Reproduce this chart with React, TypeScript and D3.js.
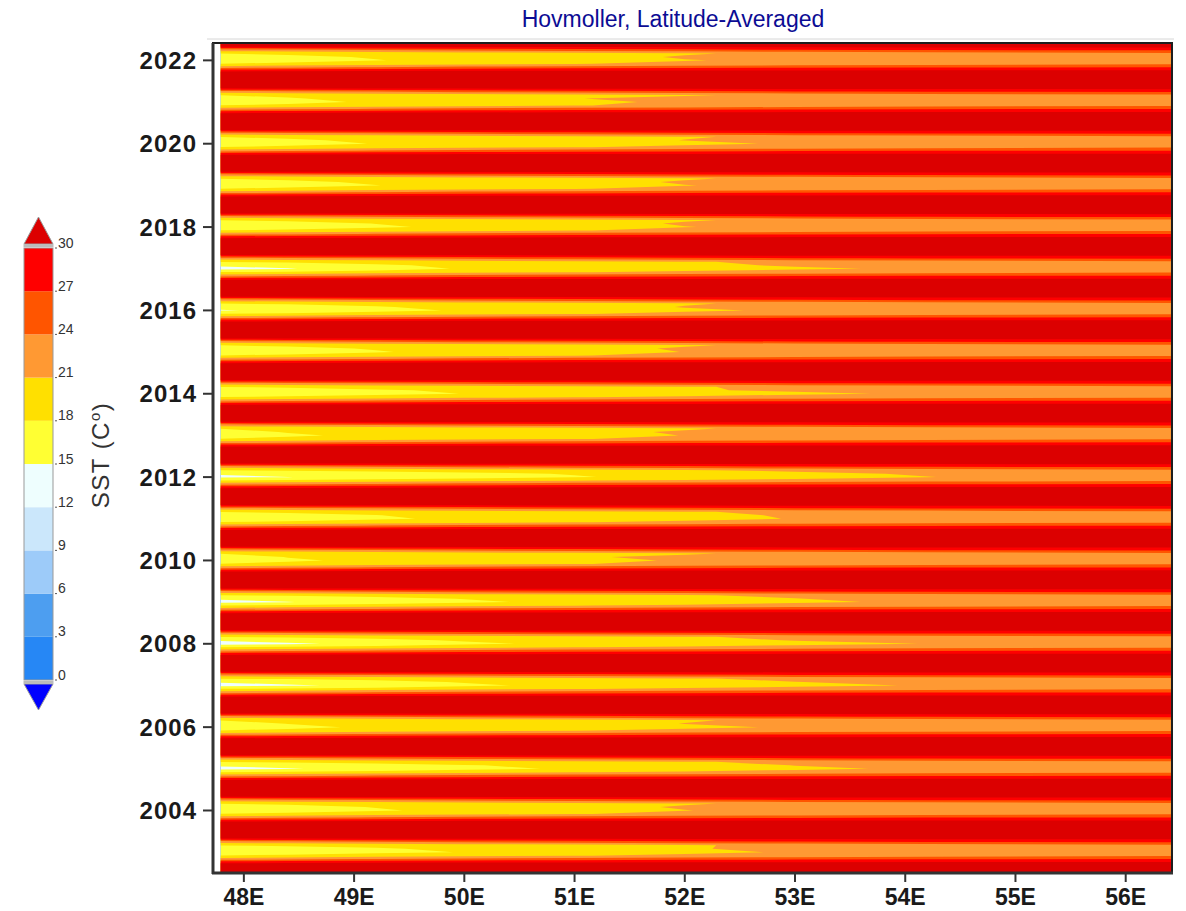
import React, { useMemo } from 'react';
import * as d3 from 'd3';

// ---------------- DATA ----------------
// Longitude nodes of the latitude-averaged SST profile (deg E)
const LON_NODES = [47.79, 48.4, 49.2, 50.0, 51.0, 52.0, 53.0, 54.2, 56.42];
// Monthly series: Jul 2002 .. Jun 2022
const START_YEAR = 2002;
const START_MONTH = 7;
const MONTH_COUNT = 240;

// Winter (coldest months) profiles, per year
const WINTER_YEARS = [2003, 2004, 2005, 2006, 2007, 2008, 2009, 2010, 2011, 2012, 2013, 2014, 2015, 2016, 2017, 2018, 2019, 2020, 2021, 2022];
const JAN_SST = [
  [15.8, 16.4, 17.3, 18.1, 19.3, 20.5, 21.2, 21.7, 22.6],
  [15.9, 16.7, 17.7, 18.7, 19.9, 20.95, 21.6, 22.2, 23.0],
  [14.3, 14.8, 15.9, 17.1, 18.4, 19.4, 20.5, 21.4, 22.6],
  [16.2, 17.4, 18.4, 19.0, 19.8, 20.6, 21.2, 21.7, 22.6],
  [14.2, 14.6, 15.7, 17.5, 18.7, 19.5, 20.3, 21.2, 22.5],
  [14.0, 14.6, 15.7, 17.5, 18.6, 19.4, 20.2, 21.06, 22.0],
  [14.4, 14.9, 16.2, 17.5, 18.7, 19.6, 20.6, 21.4, 22.6],
  [16.2, 17.6, 18.6, 19.4, 20.4, 21.2, 21.6, 22.1, 22.9],
  [15.8, 16.6, 17.6, 18.5, 19.4, 20.3, 21.1, 21.6, 22.6],
  [14.5, 14.95, 15.8, 16.7, 17.8, 18.8, 19.8, 20.95, 22.3],
  [16.4, 17.6, 18.6, 19.3, 20.2, 21.05, 21.5, 22.0, 22.8],
  [15.8, 16.4, 17.2, 18.05, 18.9, 19.8, 20.6, 21.3, 22.5],
  [16.0, 16.8, 17.8, 18.8, 20.0, 21.05, 21.5, 22.0, 22.8],
  [14.8, 15.5, 17.0, 18.35, 19.5, 20.65, 21.3, 21.7, 22.6],
  [14.2, 14.8, 16.7, 18.25, 19.05, 19.9, 20.7, 21.3, 22.5],
  [15.9, 16.7, 17.6, 18.6, 19.8, 20.95, 21.4, 21.9, 22.8],
  [16.0, 17.0, 17.95, 18.9, 19.9, 20.95, 21.4, 21.9, 22.8],
  [16.0, 17.1, 18.1, 18.8, 19.7, 20.6, 21.2, 21.7, 22.6],
  [16.2, 17.2, 18.4, 19.4, 20.6, 21.3, 21.7, 22.1, 22.9],
  [16.0, 16.9, 17.9, 18.75, 19.8, 20.9, 21.4, 21.9, 22.8],
];
const FEB_SST = [
  [16.3, 16.9, 17.7, 18.6, 19.7, 20.9, 21.3, 21.8, 22.8],
  [16.4, 17.3, 18.1, 19.1, 20.3, 21.2, 21.8, 22.3, 23.1],
  [15.3, 15.9, 16.9, 17.8, 18.9, 20.0, 21.05, 21.6, 22.7],
  [16.6, 18.05, 18.7, 19.4, 20.2, 21.05, 21.5, 22.0, 22.8],
  [15.2, 16.05, 17.2, 18.2, 19.1, 20.1, 20.95, 21.7, 22.7],
  [15.2, 16.1, 17.3, 18.3, 19.3, 20.3, 21.1, 21.6, 22.5],
  [15.3, 16.1, 17.1, 18.1, 19.1, 20.0, 20.95, 21.6, 22.7],
  [16.6, 18.1, 18.9, 19.7, 20.8, 21.4, 21.8, 22.3, 23.0],
  [16.2, 17.1, 17.95, 18.7, 19.6, 20.5, 21.2, 21.7, 22.7],
  [15.3, 15.85, 16.6, 17.3, 18.2, 19.25, 20.35, 21.3, 22.5],
  [16.8, 18.2, 18.9, 19.6, 20.5, 21.2, 21.6, 22.1, 22.9],
  [16.2, 16.8, 17.7, 18.4, 19.6, 20.8, 21.3, 21.8, 22.7],
  [16.4, 17.4, 18.2, 19.2, 20.4, 21.2, 21.6, 22.1, 22.9],
  [15.9, 16.8, 17.8, 18.75, 20.0, 21.1, 21.5, 22.0, 22.8],
  [15.4, 16.4, 17.6, 18.6, 19.6, 20.6, 21.2, 21.7, 22.7],
  [16.3, 17.2, 18.05, 19.0, 20.2, 21.2, 21.6, 22.0, 22.9],
  [16.4, 17.6, 18.3, 19.2, 20.3, 21.2, 21.6, 22.0, 22.9],
  [16.4, 17.7, 18.4, 19.1, 20.1, 21.05, 21.5, 22.0, 22.8],
  [16.6, 17.8, 18.8, 19.8, 20.95, 21.5, 21.8, 22.2, 23.0],
  [16.4, 17.5, 18.2, 19.1, 20.2, 21.2, 21.6, 22.0, 22.9],
];
// Typical profiles for the other months
const MAR_SST = [18.1, 18.4, 18.9, 19.4, 20.0, 20.8, 21.5, 22.3, 23.4];
const APR_SST = [22.5, 23.2, 24.0, 24.8, 25.5, 26.2, 26.8, 27.2, 27.5];
const MAY_SST = [30.5, 30.6, 30.7, 30.8, 30.9, 31.0, 31.0, 31.0, 31.0];
const JUN_SST = [32.5, 32.5, 32.4, 32.3, 32.2, 32.1, 32.0, 32.0, 32.0];
const JUL_SST = [33.0, 33.0, 32.9, 32.8, 32.7, 32.6, 32.5, 32.4, 32.3];
const AUG_SST = [33.5, 33.4, 33.3, 33.2, 33.1, 33.0, 32.8, 32.6, 32.5];
const SEP_SST = [32.0, 32.1, 32.2, 32.3, 32.3, 32.3, 32.2, 32.1, 32.0];
const OCT_SST = [29.5, 29.7, 29.9, 30.05, 30.2, 30.3, 30.4, 30.5, 30.5];
const NOV_SST = [22.5, 23.3, 24.2, 25.0, 25.6, 26.1, 26.5, 26.8, 27.0];
const DEC_SST = [18.1, 18.6, 19.4, 20.1, 20.9, 21.5, 22.1, 22.8, 23.6];
const OTHER_MONTHS_SST = [MAR_SST, APR_SST, MAY_SST, JUN_SST, JUL_SST, AUG_SST, SEP_SST, OCT_SST, NOV_SST, DEC_SST];

// Colour levels
const THRESHOLDS = [-100, 0, 3, 6, 9, 12, 15, 18, 21, 24, 27, 30];
const LEVEL_COLORS = ['#0000ff', '#2687f5', '#4d9ef0', '#9dcbf9', '#cbe7fb', '#eefefe', '#ffff33', '#ffe000', '#ff9933', '#ff5500', '#ff0000', '#dc0000'];
const CB_LEVELS = [0, 3, 6, 9, 12, 15, 18, 21, 24, 27, 30];

// Axes
const LON_DOMAIN = [47.72, 56.42];
const LON_TICKS = [48, 49, 50, 51, 52, 53, 54, 55, 56];
const YEAR_TICKS = [2004, 2006, 2008, 2010, 2012, 2014, 2016, 2018, 2020, 2022];

const TITLE = 'Hovmoller, Latitude-Averaged';
const FONT = '"Liberation Sans", Arial, Helvetica, sans-serif';

export default function App() {
  const W = 1186, H = 911;
  const plot = { left: 213, right: 1172, top: 43, bottom: 873 };
  const tStart = START_YEAR + (START_MONTH - 1) / 12;
  const tEnd = tStart + (MONTH_COUNT - 1) / 12;
  const x = d3.scaleLinear().domain(LON_DOMAIN).range([plot.left, plot.right]);
  const y = d3.scaleLinear().domain([tStart, tEnd]).range([plot.bottom, plot.top]);

  const layers = useMemo(() => {
    const nx = LON_NODES.length;
    const ny = MONTH_COUNT;
    const values: number[] = new Array(nx * ny);
    for (let j = 0; j < ny; j++) {
      const abs = START_MONTH - 1 + j;
      const yr = START_YEAR + Math.floor(abs / 12);
      const m = abs % 12;
      const row = m === 0 ? JAN_SST[yr - WINTER_YEARS[0]] : m === 1 ? FEB_SST[yr - WINTER_YEARS[0]] : OTHER_MONTHS_SST[m - 2];
      for (let i = 0; i < nx; i++) values[j * nx + i] = row[i];
    }
    const contours = d3.contours().size([nx, ny]).thresholds(THRESHOLDS)(values);
    const idxToLon = d3.scaleLinear().domain(d3.range(nx)).range(LON_NODES);
    const proj = d3.geoTransform({
      point: function (px: number, py: number) {
        (this as any).stream.point(x(idxToLon(px - 0.5)), y(tStart + (py - 0.5) / 12));
      },
    });
    const path = d3.geoPath(proj as any);
    return contours.map((c, k) => ({ d: path(c as any) || '', color: LEVEL_COLORS[k] }));
  }, []);

  const cbY = d3.scaleLinear().domain([0, 30]).range([680, 248]);
  const cbL = 24, cbR = 53, cbMid = (cbL + cbR) / 2;

  return (
    <svg width={W} height={H} style={{ position: 'absolute', left: 0, top: 0, background: '#fff' }} fontFamily={FONT}>
      <rect x={0} y={0} width={W} height={H} fill="#ffffff" />
      <text x={673} y={27} textAnchor="middle" fontSize={23} fill="#0c0c94">{TITLE}</text>
      <line x1={plot.left - 6} x2={plot.right + 2} y1={plot.top - 4} y2={plot.top - 4} stroke="#d6d6d6" strokeWidth={1} />

      <defs>
        <clipPath id="plotClip">
          <rect x={x(LON_NODES[0])} y={y(tEnd)} width={x(LON_NODES[LON_NODES.length - 1]) - x(LON_NODES[0])} height={y(tStart) - y(tEnd)} />
        </clipPath>
      </defs>
      <g clipPath="url(#plotClip)">
        {layers.map((l, k) => (
          <path key={k} d={l.d} fill={l.color} stroke="none" />
        ))}
      </g>

      {/* frame */}
      <rect x={plot.left} y={plot.top} width={plot.right - plot.left} height={plot.bottom - plot.top} fill="none" stroke="#1e1e1e" strokeWidth={2} />
      <line x1={plot.left} x2={plot.left} y1={plot.top} y2={plot.bottom + 1} stroke="#333" strokeWidth={3} />
      <line x1={plot.left - 1} x2={plot.right + 1} y1={plot.bottom} y2={plot.bottom} stroke="#333" strokeWidth={3} />

      {/* y axis */}
      {YEAR_TICKS.map((t) => (
        <g key={t}>
          <line x1={plot.left - 10} x2={plot.left} y1={y(t)} y2={y(t)} stroke="#333" strokeWidth={2} />
          <text x={plot.left - 16} y={y(t) + 8.5} textAnchor="end" fontSize={24} fontWeight="bold" fill="#1a1a1a" letterSpacing={1}>{t}</text>
        </g>
      ))}
      {/* x axis */}
      {LON_TICKS.map((v) => (
        <g key={v}>
          <line x1={x(v)} x2={x(v)} y1={plot.bottom} y2={plot.bottom + 9} stroke="#333" strokeWidth={2} />
          <text x={x(v)} y={905} textAnchor="middle" fontSize={23} fontWeight="bold" fill="#1a1a1a">{`${v}E`}</text>
        </g>
      ))}

      {/* colour bar */}
      <polygon points={`${cbL},${cbY(30) - 4} ${cbR},${cbY(30) - 4} ${cbMid},${cbY(30) - 31}`} fill={LEVEL_COLORS[11]} stroke="#999" strokeWidth={1} />
      <polygon points={`${cbL},${cbY(0) + 4} ${cbR},${cbY(0) + 4} ${cbMid},${cbY(0) + 30}`} fill={LEVEL_COLORS[0]} stroke="#999" strokeWidth={1} />
      {CB_LEVELS.slice(0, -1).map((v, k) => (
        <rect key={v} x={cbL} y={cbY(CB_LEVELS[k + 1])} width={cbR - cbL} height={cbY(v) - cbY(CB_LEVELS[k + 1])} fill={LEVEL_COLORS[k + 1]} />
      ))}
      <rect x={cbL} y={cbY(30)} width={cbR - cbL} height={cbY(0) - cbY(30)} fill="none" stroke="#999" strokeWidth={1} />
      <rect x={cbL - 0.5} y={cbY(30) - 4} width={cbR - cbL + 1} height={3} fill="#bbb" />
      <rect x={cbL - 0.5} y={cbY(0) + 1} width={cbR - cbL + 1} height={3} fill="#bbb" />
      {CB_LEVELS.map((v) => (
        <g key={v}>
          <line x1={cbR + 2} x2={cbR + 4} y1={cbY(v)} y2={cbY(v)} stroke="#555" strokeWidth={1} />
          <text x={58} y={cbY(v) - 0.5} fontSize={14} fill="#333">{v}</text>
        </g>
      ))}
      <text transform="translate(109,455) rotate(-90)" textAnchor="middle" fontSize={24} fill="#333" letterSpacing={1.5}>
        SST (C<tspan dy={-9} fontSize={15}>o</tspan><tspan dy={9}>)</tspan>
      </text>
    </svg>
  );
}
